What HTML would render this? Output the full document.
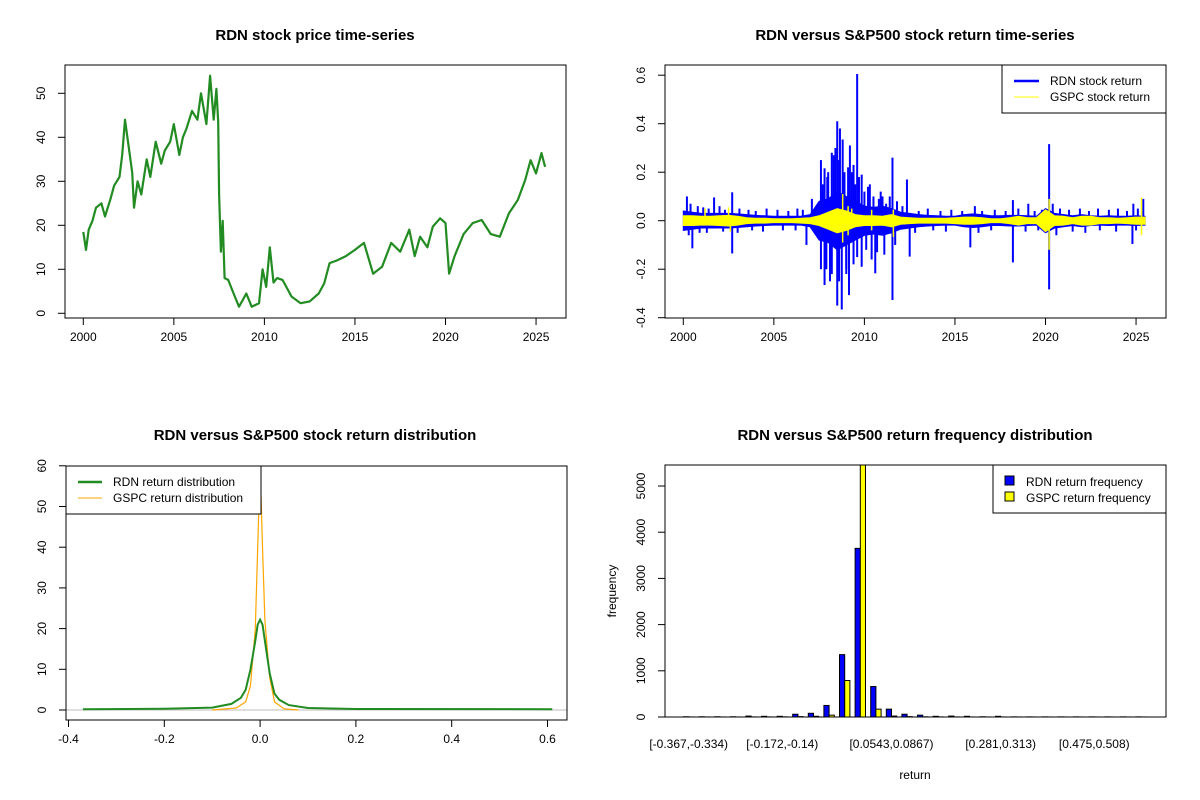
<!DOCTYPE html>
<html><head><meta charset="utf-8"><style>
html,body{margin:0;padding:0;background:#fff;}
svg{display:block;font-family:"Liberation Sans",Arial,sans-serif;}
</style></head><body>
<svg id="c" width="1200" height="800" xmlns="http://www.w3.org/2000/svg"></svg>
<script>
// ---------- DATA ----------
const priceYears=[2000.0,2000.15,2000.3,2000.5,2000.7,2001.0,2001.2,2001.5,2001.7,2002.0,2002.15,2002.3,2002.5,2002.7,2002.8,2003.0,2003.2,2003.5,2003.7,2004.0,2004.3,2004.5,2004.8,2005.0,2005.3,2005.5,2005.7,2006.0,2006.3,2006.5,2006.8,2007.0,2007.2,2007.35,2007.45,2007.5,2007.6,2007.7,2007.8,2008.0,2008.3,2008.6,2008.8,2009.0,2009.3,2009.7,2009.9,2010.1,2010.3,2010.5,2010.7,2011.0,2011.5,2012.0,2012.5,2013.0,2013.3,2013.6,2014.0,2014.5,2015.0,2015.5,2016.0,2016.5,2017.0,2017.5,2018.0,2018.3,2018.6,2019.0,2019.3,2019.7,2020.0,2020.2,2020.5,2021.0,2021.5,2022.0,2022.5,2023.0,2023.5,2024.0,2024.4,2024.7,2025.0,2025.3,2025.5];
const prices=[18.5,14.4,19,21,24,25,22,26,29,31,36,44,38,32,24,30,27,35,31,39,34,37,39,43,36,40,42,46,44,50,43,54,44,51,43.5,27,14,21,8,7.6,4.5,1.5,3,4.5,1.5,2.3,10,6,15,7,8,7.6,3.8,2.3,2.7,4.5,6.8,11.4,12,13,14.4,16,9,10.6,16,14,19,13,17.4,15,19.7,21.6,20.5,9,13,18,20.5,21.2,18,17.4,22.7,25.8,30.3,34.8,31.8,36.4,33.3];
const priceYTicks=[0,10,20,30,40,50];
const yearTicks=[2000,2005,2010,2015,2020,2025];

const bandYearStart=2000, bandStep=0.5;
const rdnBand=[.04,.035,.03,.03,.03,.03,.028,.025,.022,.02,.018,.018,.018,.018,.025,.08,.09,.12,.1,.08,.06,.055,.06,.05,.035,.03,.025,.022,.02,.018,.018,.025,.028,.025,.02,.02,.022,.022,.02,.018,.05,.03,.025,.02,.025,.02,.018,.02,.018,.018,.02,.018];
const gspcBand=[.02,.02,.018,.018,.02,.022,.018,.012,.01,.01,.008,.008,.008,.01,.012,.02,.035,.05,.04,.025,.02,.02,.018,.025,.015,.012,.01,.01,.01,.01,.012,.015,.015,.012,.008,.008,.012,.018,.012,.012,.045,.02,.018,.012,.018,.018,.012,.012,.01,.012,.015,.015];
const rdnSpikeYears=[2000.2,2002.7,2001.7,2007.1,2007.8,2008.5,2008.65,2008.8,2009.6,2009.2,2009.4,2009.85,2011.55,2012.35,2018.2,2019.05,2020.2,2024.85,2025.4,2000.5,2002.7,2006.8,2007.6,2007.8,2008.5,2008.75,2009.15,2009.85,2010.6,2011.55,2012.5,2015.85,2018.2,2020.2,2024.8,2007.95,2008.3,2010.2,2010.9,2008.1,2009.0,2010.4,
2000.4,2000.8,2001.1,2001.4,2002.0,2002.3,2003.1,2003.6,2004.0,2004.6,2005.2,2005.8,2006.3,2006.6,2007.3,2007.6,2007.7,2008.0,2008.2,2008.4,2008.6,2008.9,2009.1,2009.3,2009.5,2009.7,2010.0,2010.3,2010.5,2010.8,2011.0,2011.2,2011.4,2011.8,2012.1,2013.0,2013.5,2014.2,2014.8,2015.4,2016.1,2016.5,2017.2,2017.8,2018.5,2019.4,2019.8,2020.4,2020.8,2021.3,2021.9,2022.4,2022.9,2023.5,2024.0,2024.5,2025.1,
2000.3,2000.9,2001.3,2002.2,2003.0,2003.8,2004.4,2005.5,2006.2,2007.4,2007.9,2008.2,2008.6,2009.0,2009.4,2009.6,2010.1,2010.7,2011.1,2011.7,2012.8,2013.8,2014.5,2016.3,2017.0,2018.9,2019.6,2020.6,2021.5,2022.2,2023.0,2023.9,2025.0];
const rdnSpikeVals=[0.10,0.117,0.096,0.09,0.216,0.41,0.38,0.335,0.605,0.31,0.23,0.19,0.26,0.17,0.085,0.07,0.316,0.07,0.09,-0.114,-0.135,-0.1,-0.2,-0.265,-0.35,-0.366,-0.307,-0.19,-0.217,-0.327,-0.148,-0.11,-0.172,-0.283,-0.096,0.18,0.27,0.14,0.12,-0.25,-0.22,-0.16,
0.07,0.06,0.055,0.05,0.06,0.045,0.05,0.045,0.04,0.05,0.045,0.04,0.05,0.045,0.05,0.25,0.15,0.2,0.28,0.3,0.25,0.2,0.22,0.2,0.15,0.18,0.12,0.15,0.1,0.09,0.1,0.07,0.1,0.08,0.06,0.04,0.05,0.04,0.045,0.04,0.06,0.04,0.045,0.04,0.05,0.04,0.045,0.07,0.05,0.045,0.05,0.04,0.05,0.045,0.05,0.04,0.05,
-0.06,-0.05,-0.05,-0.045,-0.05,-0.04,-0.045,-0.04,-0.04,-0.05,-0.2,-0.22,-0.25,-0.2,-0.18,-0.15,-0.12,-0.13,-0.14,-0.1,-0.05,-0.04,-0.045,-0.05,-0.04,-0.045,-0.04,-0.06,-0.045,-0.05,-0.04,-0.045,-0.04];
const gspcSpikeYears=[2008.8,2008.8,2009.1,2009.1,2020.2,2020.2,2025.3,2025.3,2001.2,2002.5,2002.6,2011.6,2011.6,2008.3,2008.5,2009.3,2010.4,2010.4];
const gspcSpikeVals=[0.11,-0.09,0.06,-0.06,0.09,-0.12,0.095,-0.06,0.05,0.055,-0.045,-0.067,0.046,0.04,-0.05,0.05,0.045,-0.04];
const retYTicks=[-0.4,-0.2,0.0,0.2,0.4,0.6];

const densX=[-0.37,-0.2,-0.1,-0.06,-0.04,-0.03,-0.02,-0.01,-0.005,0,0.005,0.01,0.02,0.03,0.04,0.06,0.1,0.2,0.61];
const rdnDens=[0.2,0.3,0.6,1.5,3,5,10,17,21,22.2,21,17,9,4,2.5,1.2,0.5,0.25,0.2];
const gspcX=[-0.1,-0.05,-0.03,-0.02,-0.01,-0.005,0,0.005,0.01,0.02,0.03,0.05,0.08];
const gspcDens=[0,0.5,2,6,20,40,60,40,22,8,2,0.3,0];
const densXTicks=[-0.4,-0.2,0.0,0.2,0.4,0.6];
const densYTicks=[0,10,20,30,40,50,60];

const binCount=30;
const rdnFreq=[5,5,5,5,20,15,15,60,80,250,1350,3650,660,170,60,40,15,20,15,5,15,3,3,3,3,3,3,3,3,3];
const gspcFreq=[1,1,1,1,2,2,3,8,15,40,790,5500,170,20,8,4,2,2,1,1,1,1,1,1,1,1,1,1,1,1];
const binLabelIdx=[0,6,13,20,26];
const binLabels=["[-0.367,-0.334)","[-0.172,-0.14)","[0.0543,0.0867)","[0.281,0.313)","[0.475,0.508)"];
const freqTicks=[0,1000,2000,3000,4000,5000];

// ---------- HELPERS ----------
const NS="http://www.w3.org/2000/svg";
const svg=document.getElementById('c');
function mk(tag,attrs,parent){const e=document.createElementNS(NS,tag);for(const k in attrs)e.setAttribute(k,attrs[k]);(parent||svg).appendChild(e);return e;}
function txt(s,x,y,opt,parent){const e=mk('text',Object.assign({x:x,y:y,'font-size':12,fill:'#000','text-anchor':'middle'},opt||{}),parent);e.textContent=s;return e;}
function title(s,cx,y,name){const t=txt(s,cx,y,{'font-size':15,'font-weight':'bold'});

}
function box(x0,y0,x1,y1,name){const r=mk('rect',{x:x0,y:y0,width:x1-x0,height:y1-y0,fill:'none',stroke:'#000','stroke-width':1});

}
function xAxis(ticks,fx,yb,fmt,name){const g=mk('g',{});


mk('line',{x1:fx(ticks[0]),x2:fx(ticks[ticks.length-1]),y1:yb,y2:yb,stroke:'#000'},g);
ticks.forEach(t=>{mk('line',{x1:fx(t),x2:fx(t),y1:yb,y2:yb+7,stroke:'#000'},g);txt(fmt(t),fx(t),yb+23,{},g);});}
function yAxis(ticks,fy,xl,fmt,name){const g=mk('g',{});


mk('line',{x1:xl,x2:xl,y1:fy(ticks[0]),y2:fy(ticks[ticks.length-1]),stroke:'#000'},g);
ticks.forEach(t=>{mk('line',{x1:xl,x2:xl-7,y1:fy(t),y2:fy(t),stroke:'#000'},g);const lx=xl-20;txt(fmt(t),lx,fy(t),{transform:`rotate(-90 ${lx} ${fy(t)})`},g);});}
const f1=v=>v.toFixed(1), f0=v=>String(v);

// ---------- PANEL 1: price ----------
{const L=65,R=566,T=65,B=318;
const fx=y=>83.3+(y-2000)*18.11, fy=v=>313.3-v*4.4;
title("RDN stock price time-series",315,40,"price-chart-title");
let d=priceYears.map((y,i)=>(i?'L':'M')+fx(y).toFixed(1)+' '+fy(prices[i]).toFixed(1)).join(' ');
const p=mk('path',{d:d,fill:'none',stroke:'#228B22','stroke-width':2.2,'stroke-linejoin':'round'});


box(L,T,R,B,'price-plot-frame');
xAxis(yearTicks,fx,B,f0,'price-x-axis');
yAxis(priceYTicks,fy,L,f0,'price-y-axis');}

// ---------- PANEL 2: returns ----------
{const L=665,R=1166,T=65,B=318;
const fx=y=>683.3+(y-2000)*18.11, fy=v=>220.7-v*242.5;
title("RDN versus S&P500 stock return time-series",915,40,"returns-chart-title");
function band(arr,color,name){let up=[],dn=[];
arr.forEach((h,i)=>{const y=bandYearStart+i*bandStep;up.push(fx(y).toFixed(1)+' '+fy(h).toFixed(1));dn.unshift(fx(y).toFixed(1)+' '+fy(-h).toFixed(1));});
const p=mk('path',{d:'M'+up.join(' L')+' L'+dn.join(' L')+'Z',fill:color,stroke:color,'stroke-width':1});

}
function spikes(ys,vs,color,w,name){const g=mk('g',{});


ys.forEach((y,i)=>mk('line',{x1:fx(y),x2:fx(y),y1:fy(0),y2:fy(vs[i]),stroke:color,'stroke-width':w},g));}
band(rdnBand,'#0000FF','rdn-return-band');
spikes(rdnSpikeYears,rdnSpikeVals,'#0000FF',2,'rdn-return-spikes');
band(gspcBand,'#FFFF00','gspc-return-band');
spikes(gspcSpikeYears,gspcSpikeVals,'#FFFF00',1.5,'gspc-return-spikes');
box(L,T,R,B,'returns-plot-frame');
xAxis(yearTicks,fx,B,f0,'returns-x-axis');
yAxis(retYTicks,fy,L,f1,'returns-y-axis');
const lg=mk('g',{});


mk('rect',{x:1002,y:65,width:164,height:48,fill:'#fff',stroke:'#000'},lg);
mk('line',{x1:1014,x2:1039,y1:81,y2:81,stroke:'#0000FF','stroke-width':2.5},lg);
mk('line',{x1:1014,x2:1039,y1:97,y2:97,stroke:'#FFFF00','stroke-width':1},lg);
txt("RDN stock return",1050,85,{'text-anchor':'start'},lg);
txt("GSPC stock return",1050,101,{'text-anchor':'start'},lg);}

// ---------- PANEL 3: density ----------
{const L=66,R=567,T=466,B=720;
const fx=v=>68.5+(v+0.4)*479, fy=v=>710-v*4.07;
title("RDN versus S&P500 stock return distribution",315,440,"density-chart-title");
const cp=mk('clipPath',{id:'dclip'});mk('rect',{x:L,y:T,width:R-L,height:B-T},cp);
const g0=mk('line',{x1:L,x2:R,y1:fy(0),y2:fy(0),stroke:'#bebebe'});


const p1=mk('path',{d:gspcX.map((x,i)=>(i?'L':'M')+fx(x).toFixed(1)+' '+fy(gspcDens[i]).toFixed(1)).join(' '),fill:'none',stroke:'#FFA500','stroke-width':1.2,'clip-path':'url(#dclip)'});


const p2=mk('path',{d:densX.map((x,i)=>(i?'L':'M')+fx(x).toFixed(1)+' '+fy(rdnDens[i]).toFixed(1)).join(' '),fill:'none',stroke:'#228B22','stroke-width':2});


box(L,T,R,B,'density-plot-frame');
xAxis(densXTicks,fx,B,f1,'density-x-axis');
yAxis(densYTicks,fy,L,f0,'density-y-axis');
const lg=mk('g',{});


mk('rect',{x:66,y:466,width:195,height:48,fill:'#fff',stroke:'#000'},lg);
mk('line',{x1:78,x2:102,y1:482,y2:482,stroke:'#228B22','stroke-width':2.5},lg);
mk('line',{x1:78,x2:102,y1:498,y2:498,stroke:'#FFA500','stroke-width':1},lg);
txt("RDN return distribution",113,486,{'text-anchor':'start'},lg);
txt("GSPC return distribution",113,502,{'text-anchor':'start'},lg);}

// ---------- PANEL 4: histogram ----------
{const L=665,R=1166,T=465,B=717;
const gc=i=>688.7+15.6*i, bw=5.2, fy=v=>717-v*0.0462;
title("RDN versus S&P500 return frequency distribution",915,440,"histogram-chart-title");
const cp=mk('clipPath',{id:'hclip'});mk('rect',{x:L,y:T,width:R-L,height:B-T},cp);
const bars=mk('g',{'clip-path':'url(#hclip)'});


for(let i=0;i<binCount;i++){
 const b1=mk('rect',{x:gc(i)-bw,y:fy(rdnFreq[i]),width:bw,height:Math.max(0.5,fy(0)-fy(rdnFreq[i])),fill:'#0000FF',stroke:'#000','stroke-width':1},bars);
 
 
 const b2=mk('rect',{x:gc(i),y:fy(gspcFreq[i]),width:bw,height:Math.max(0.5,fy(0)-fy(gspcFreq[i])),fill:'#FFFF00',stroke:'#000','stroke-width':1},bars);
 
 }
box(L,T,R,B,'histogram-plot-frame');
yAxis(freqTicks,fy,L,f0,'histogram-y-axis');
const xl=mk('g',{});


binLabelIdx.forEach((b,k)=>txt(binLabels[k],gc(b),748,{},xl));
const xt=txt("return",915,779,{});


const yt=txt("frequency",616,591,{transform:'rotate(-90 616 591)'});


const lg=mk('g',{});


mk('rect',{x:993,y:465,width:173,height:48,fill:'#fff',stroke:'#000'},lg);
mk('rect',{x:1005,y:476,width:9,height:9,fill:'#0000FF',stroke:'#000'},lg);
mk('rect',{x:1005,y:492,width:9,height:9,fill:'#FFFF00',stroke:'#000'},lg);
txt("RDN return frequency",1026,486,{'text-anchor':'start'},lg);
txt("GSPC return frequency",1026,502,{'text-anchor':'start'},lg);}
</script>
</body></html>
